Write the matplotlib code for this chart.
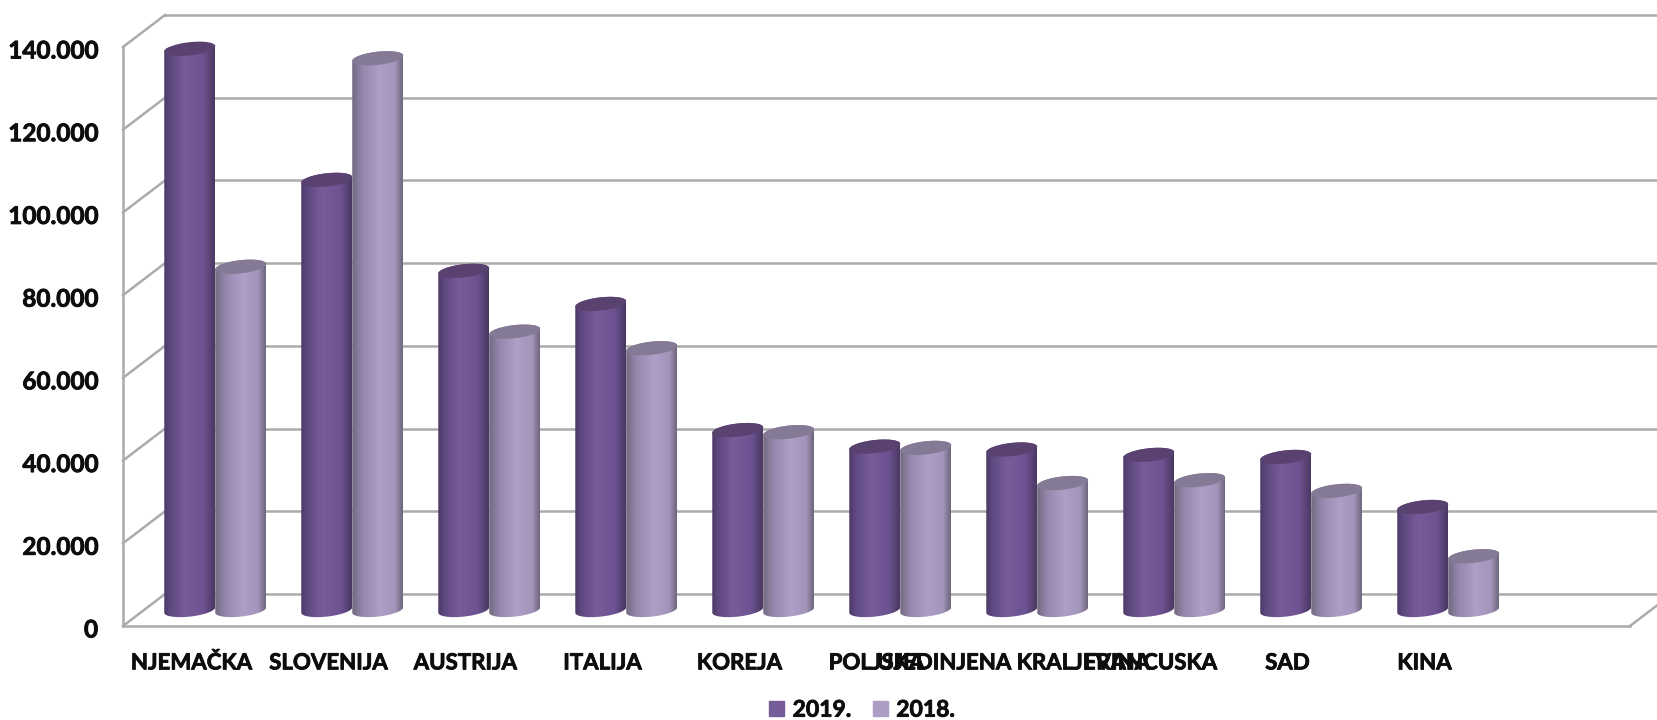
import matplotlib
matplotlib.use('Agg')
import matplotlib.pyplot as plt
import matplotlib.transforms as mtransforms
from matplotlib.colors import LinearSegmentedColormap
from matplotlib.patches import Patch, Polygon
import matplotlib.patheffects as pe
import numpy as np

plt.rcParams['font.family'] = ['Lato', 'DejaVu Sans']
plt.rcParams['font.weight'] = 'bold'

categories = ['NJEMAČKA', 'SLOVENIJA', 'AUSTRIJA', 'ITALIJA', 'KOREJA', 'POLJSKA',
              'UJEDINJENA KRALJEVINA', 'FRANCUSKA', 'SAD', 'KINA']
values_2019 = [135700, 104000, 82000, 74000, 43500, 39500, 38800, 37500, 37000, 24900]
values_2018 = [83000, 133400, 67300, 63300, 43000, 39200, 30700, 31400, 28800, 13000]
yticks = [0, 20000, 40000, 60000, 80000, 100000, 120000, 140000]
ytick_labels = ['0', '20.000', '40.000', '60.000', '80.000', '100.000', '120.000', '140.000']

W, H = 1657, 720
LINE = '#ababab'
TEXT = '#0d0d0d'

fig = plt.figure(figsize=(W / 100, H / 100), dpi=100)
ax = fig.add_axes([123 / W, (H - 626) / H, (1630 - 123) / W, 579 / H])
ax.patch.set_visible(False)
for s in ax.spines.values():
    s.set_visible(False)

x0, x1 = -0.5, 10.5
# depth of the fake 3d box in data units, bars stand half way in
dx = 0.3066
dy = 7740

for v in yticks:
    ax.plot([x0 + dx, x1 + dx], [v + dy, v + dy], color=LINE, lw=1.8, clip_on=False, zorder=1)
    ax.plot([x0, x0 + dx], [v, v + dy], color=LINE, lw=1.8, clip_on=False, zorder=1)

ax.plot([x0, x0], [0, yticks[-1]], color=LINE, lw=1.8, clip_on=False, zorder=1)
ax.plot([x0, x1], [0, 0], color=LINE, lw=1.8, clip_on=False, zorder=1)
ax.plot([x1, x1 + dx], [0, dy], color=LINE, lw=1.8, clip_on=False, zorder=1)

cmap_dark = LinearSegmentedColormap.from_list('dark', [(0, '#4d3a66'), (0.12, '#5f4880'), (0.42, '#775c9a'),
                                                       (0.78, '#6c5290'), (1, '#4a3862')])
cmap_light = LinearSegmentedColormap.from_list('light', [(0, '#726a80'), (0.2, '#9587ad'), (0.55, '#ae9fc7'),
                                                         (0.85, '#a394ba'), (1, '#6e667c')])

width = 0.372
b = 1600
k = 650
shift = dx / 2 + 0.02
t_low = np.linspace(np.pi, 2 * np.pi, 50)
t_up = np.linspace(0, np.pi, 50)
grad = np.linspace(0, 1, 128).reshape(1, -1)


def cylinder(cx, v, cmap, top_color, z):
    a = width / 2
    base = dy / 2
    xs = np.r_[cx + a * np.cos(t_low), cx + a * np.cos(t_up)]
    ys = np.r_[base + b * np.sin(t_low) + k * np.cos(t_low), base + v + b * np.sin(t_up) + k * np.cos(t_up)]
    body = Polygon(np.c_[xs, ys], closed=True, transform=ax.transData)
    im = ax.imshow(grad, cmap=cmap, aspect='auto', zorder=z, interpolation='bilinear',
                   extent=(cx - a, cx + a, base - b - k, base + v + b + k))
    im.set_clip_path(body)
    t = np.linspace(0, 2 * np.pi, 100)
    ax.add_patch(Polygon(np.c_[cx + a * np.cos(t), base + v + b * np.sin(t) + k * np.cos(t)], closed=True,
                         facecolor=top_color, edgecolor='none', zorder=z + 0.5, clip_on=False))


for i in range(len(categories)):
    cylinder(i + shift - width / 2, values_2019[i], cmap_dark, '#5a4270', 3 + 2 * i)
    cylinder(i + shift + width / 2, values_2018[i], cmap_light, '#847a96', 4 + 2 * i)

ax.set_xlim(x0, x1)
ax.set_ylim(0, 140000)
ax.set_xticks(range(len(categories)))
ax.set_xticklabels(categories, fontsize=16, fontweight='bold', color=TEXT)
ax.set_yticks(yticks)
ax.set_yticklabels(ytick_labels, fontsize=17.5, fontweight='bold', color=TEXT)
ax.tick_params(axis='x', length=0, pad=19)
ax.tick_params(axis='y', length=0, pad=18)

# source text is heavier than Lato bold
heavy = [pe.withStroke(linewidth=0.6, foreground=TEXT)]
for lab in ax.get_xticklabels() + ax.get_yticklabels():
    lab.set_path_effects(heavy)
# y labels sit a little under their gridline corners
down = mtransforms.ScaledTranslation(0, -0.02, fig.dpi_scale_trans)
for lab in ax.get_yticklabels():
    lab.set_transform(lab.get_transform() + down)

handles = [Patch(color='#775c9a', label='2019.'), Patch(color='#ab9dc4', label='2018.')]
leg = fig.legend(handles=handles, ncol=2, frameon=False, loc='lower center', bbox_to_anchor=(862 / W, -0.02),
                 prop={'size': 16.5, 'weight': 'bold'}, handlelength=0.66, handleheight=0.66, handletextpad=0.36,
                 columnspacing=0.95, labelcolor=TEXT, borderpad=0.1)
for t in leg.get_texts():
    t.set_path_effects(heavy)

fig.savefig('out.png', dpi=100)
